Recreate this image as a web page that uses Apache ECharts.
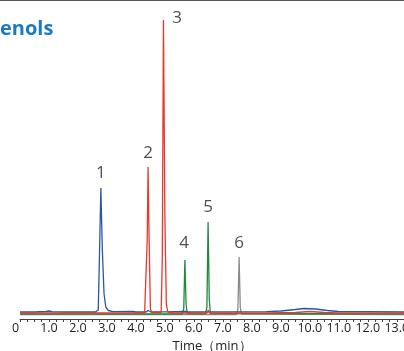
<!DOCTYPE html>
<html>
<head>
<meta charset="utf-8">
<script src="https://cdn.jsdelivr.net/npm/echarts@6/dist/echarts.min.js"></script>
<style>html,body{margin:0;padding:0;background:#fff}#c{width:404px;height:351px}</style>
</head>
<body>
<div id="c"></div>
<script>
// Chromatogram traces: [time (min), signal]
const blueTrace = [[0,7],[0.5,7],[0.9,7.5],[1.0,8],[1.1,7.3],[1.5,7],[2.6,7],[2.7,9],[2.74,60],[2.79,131],[2.84,70],[2.9,25],[2.96,12],[3.05,8.5],[3.2,7.3],[3.9,7.5],[4.0,7],[4.35,7],[4.42,8.5],[4.5,7.2],[5.0,7.2],[5.7,7.5],[5.8,7],[8.5,7.3],[9.0,8],[9.5,9.5],[9.8,10.5],[10.2,10],[10.6,8.5],[11.0,7.5],[12.0,7.3],[13.25,7]];
const redTrace = [[0,6],[4.3,6],[4.35,8],[4.39,80],[4.42,152],[4.46,70],[4.5,10],[4.55,6.5],[4.87,6.5],[4.91,60],[4.95,299],[5.0,100],[5.05,15],[5.1,7],[5.3,6],[5.7,6],[5.75,7.5],[5.8,6],[6.45,6],[6.5,9],[6.55,6],[8.5,6],[9.5,6.5],[10.0,7.5],[10.5,6.5],[11,6],[13.25,6]];
const greenTrace = [[0,5],[5.6,5],[5.65,10],[5.69,59],[5.73,15],[5.77,5.5],[6.4,5],[6.45,12],[6.49,97],[6.53,20],[6.57,5.5],[13.25,5]];
const grayTrace = [[0,4.5],[7.48,4.5],[7.52,10],[7.56,62],[7.6,12],[7.64,5],[13.25,4.5]];
// Peak labels
const peakNames = ['1','2','3','4','5','6'];
const peakLabelTimes = [2.79,4.42,5.42,5.66,6.49,7.56];
const peakLabelValues = [146,166,301,76,112,76];
const xTicks = [0,1,2,3,4,5,6,7,8,9,10,11,12,13];

const chart = echarts.init(document.getElementById('c'));
const lineSeries = (data, color) => ({
  type: 'line', data, showSymbol: false, symbol: 'none', animation: false,
  lineStyle: { color, width: 1.3 }, z: 2
});
chart.setOption({
  animation: false,
  textStyle: { fontFamily: 'Open Sans' },
  grid: { left: 20, right: 0, top: 10, bottom: 32, containLabel: false, outerBoundsMode: 'none' },
  xAxis: {
    type: 'value', min: 0, max: 13.25, interval: 1,
    name: 'Time（min）', nameLocation: 'middle', nameGap: 19,
    nameTextStyle: { fontSize: 13, color: '#222' },
    axisLine: { lineStyle: { color: '#444', width: 1 } },
    axisTick: { show: true, length: 3, lineStyle: { color: '#444' } },
    minorTick: { show: true, splitNumber: 4, length: 3, lineStyle: { color: '#444' } },
    splitLine: { show: false },
    axisLabel: {
      fontSize: 12.5, color: '#222', margin: 3,
      showMaxLabel: false, hideOverlap: false,
      formatter: v => xTicks.indexOf(v) === 0 ? '{z|0}' : v.toFixed(1),
      rich: { z: { fontSize: 12.5, color: '#222', padding: [0, 9, 0, 0] } }
    }
  },
  yAxis: { type: 'value', min: 0, max: 309, show: false, splitLine: { show: false } },
  series: [
    lineSeries(grayTrace, '#8a8a8a'),
    lineSeries(greenTrace, '#1f8a3c'),
    lineSeries(blueTrace, '#2a55a8'),
    lineSeries(redTrace, '#e8392b'),
    {
      type: 'scatter', symbolSize: 0, animation: false,
      data: peakNames.map((n, i) => [peakLabelTimes[i], peakLabelValues[i], n]),
      label: { show: true, position: 'inside', formatter: p => p.data[2], fontSize: 17, color: '#222' }
    }
  ],
  graphic: [
    { type: 'line', shape: { x1: 0, y1: 0.5, x2: 404, y2: 0.5 }, style: { stroke: '#555', lineWidth: 1 } },
    { type: 'text', left: 0, top: 19, style: { text: 'enols', fontSize: 20, fontWeight: 'bold', fill: '#1a7ac6', fontFamily: 'Open Sans' } }
  ]
});
</script>
</body>
</html>
